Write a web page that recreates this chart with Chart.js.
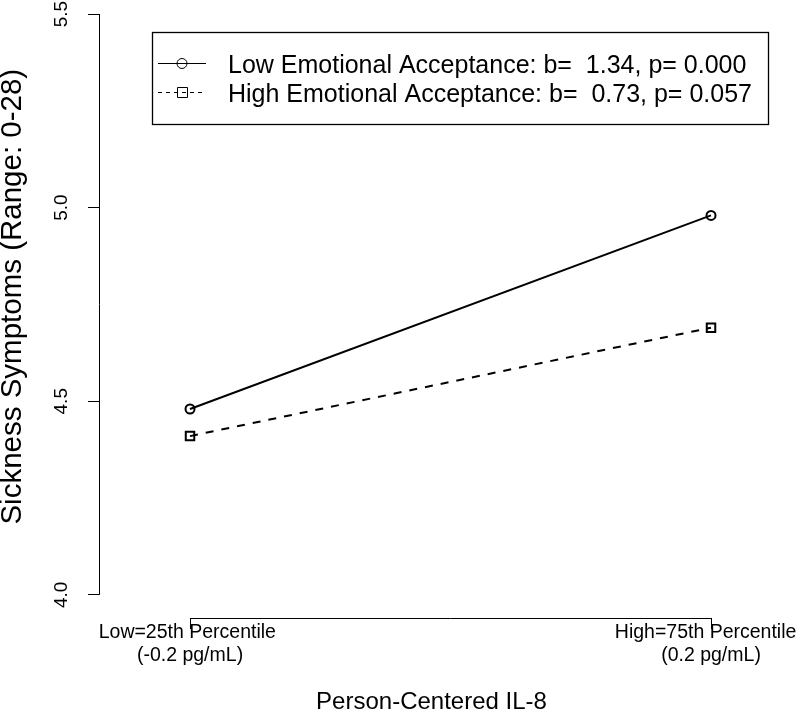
<!DOCTYPE html>
<html>
<head>
<meta charset="utf-8">
<script src="https://cdn.jsdelivr.net/npm/chart.js@4.4.1/dist/chart.umd.min.js"></script>
<style>
  html, body { margin: 0; padding: 0; background: #ffffff; }
  #wrap { width: 800px; height: 712px; position: relative; }
</style>
</head>
<body>
<div id="wrap"><canvas id="c" width="800" height="712"></canvas></div>
<script>
// ---- data ----
const xTickValues = [0, 1];
const xTickLabels = [["Low=25th Percentile ", "(-0.2 pg/mL)"], ["High=75th Percentile  ", "(0.2 pg/mL)"]];
const yTickValues = [4.0, 4.5, 5.0, 5.5];
const lowAcceptance = [4.48, 4.98];
const highAcceptance = [4.41, 4.69];
const seriesNames = [
  "Low Emotional Acceptance: b=  1.34, p= 0.000",
  "High Emotional Acceptance: b=  0.73, p= 0.057"
];
const xTitle = "Person-Centered IL-8";
const yTitle = "   Sickness Symptoms (Range: 0-28)";

const FONT = "'Liberation Sans', Arial, sans-serif";

const toPts = (vals) => vals.map((v, i) => ({ x: xTickValues[i], y: v }));

// draws R-style axis lines from first to last tick, and the boxed legend
const rStyle = {
  id: 'rStyle',
  afterDraw(chart) {
    const ctx = chart.ctx;
    const xs = chart.scales.x, ys = chart.scales.y;
    const area = chart.chartArea;
    ctx.save();
    ctx.strokeStyle = '#000';
    ctx.lineWidth = 1;
    // x axis line
    const yLine = Math.round(area.bottom) + 0.5;
    ctx.beginPath();
    ctx.moveTo(xs.getPixelForValue(xTickValues[0]), yLine);
    ctx.lineTo(xs.getPixelForValue(xTickValues[xTickValues.length - 1]), yLine);
    ctx.stroke();
    // y axis line
    const xLine = Math.round(area.left) + 0.5;
    ctx.beginPath();
    ctx.moveTo(xLine, ys.getPixelForValue(yTickValues[0]));
    ctx.lineTo(xLine, ys.getPixelForValue(yTickValues[yTickValues.length - 1]));
    ctx.stroke();

    // legend box
    const bx = 152.5, by = 32.5, bw = 616, bh = 92;
    ctx.lineWidth = 1.3;
    ctx.strokeRect(bx, by, bw, bh);
    const rows = [63, 92];
    chart.data.datasets.forEach((ds, i) => {
      const y = rows[i] + 0.5;
      ctx.lineWidth = 1;
      ctx.setLineDash(ds.legendDash);
      ctx.beginPath();
      ctx.moveTo(158, y);
      ctx.lineTo(206, y);
      ctx.stroke();
      ctx.setLineDash([]);
      ctx.beginPath();
      if (ds.pointStyle === 'circle') {
        ctx.arc(182, y, 5, 0, Math.PI * 2);
      } else {
        ctx.rect(177.5, y - 5, 10, 10);
      }
      ctx.stroke();
      ctx.fillStyle = '#000';
      ctx.font = '25px ' + FONT;
      ctx.textBaseline = 'alphabetic';
      ctx.textAlign = 'left';
      ctx.fillText(ds.label, 228, rows[i] + 10);
    });
    ctx.restore();
  }
};

new Chart(document.getElementById('c'), {
  type: 'line',
  data: {
    datasets: [
      {
        label: seriesNames[0],
        data: toPts(lowAcceptance),
        borderColor: '#000',
        backgroundColor: 'rgba(0,0,0,0)',
        borderWidth: 2,
        pointStyle: 'circle',
        pointRadius: 4.5,
        pointBorderWidth: 2,
        pointBorderColor: '#000',
        pointBackgroundColor: 'rgba(0,0,0,0)',
        legendDash: [],
        tension: 0
      },
      {
        label: seriesNames[1],
        data: toPts(highAcceptance),
        borderColor: '#000',
        backgroundColor: 'rgba(0,0,0,0)',
        borderWidth: 2,
        borderDash: [8, 8],
        pointStyle: 'rect',
        pointRadius: 6,
        pointBorderWidth: 2,
        pointBorderColor: '#000',
        pointBackgroundColor: 'rgba(0,0,0,0)',
        legendDash: [4, 4],
        tension: 0
      }
    ]
  },
  options: {
    responsive: false,
    animation: false,
    devicePixelRatio: 1,
    layout: { autoPadding: false, padding: { top: 0, right: 36, bottom: 0, left: 0 } },
    plugins: { legend: { display: false }, tooltip: { enabled: false }, title: { display: false } },
    scales: {
      x: {
        type: 'linear',
        min: -0.1747,
        max: 1.1017,
        afterBuildTicks: (s) => { s.ticks = xTickValues.map(v => ({ value: v })); },
        afterFit: (s) => { s.height = 94; s.paddingLeft = 0; s.paddingRight = 0; },
        grid: { drawOnChartArea: false, drawTicks: true, tickLength: 11, color: '#000', lineWidth: 1 },
        border: { display: false },
        ticks: {
          autoSkip: false,
          maxRotation: 0,
          minRotation: 0,
          padding: -8,
          color: '#000',
          font: { family: FONT, size: 19.5, lineHeight: 1.2 },
          callback: (value, index) => xTickLabels[index]
        },
        title: {
          display: true,
          text: xTitle,
          color: '#000',
          font: { family: FONT, size: 24, lineHeight: 1 },
          padding: { top: 0, bottom: -2 }
        }
      },
      y: {
        type: 'linear',
        min: 3.9403,
        max: 5.5362,
        afterBuildTicks: (s) => { s.ticks = yTickValues.map(v => ({ value: v })); },
        afterFit: (s) => { s.width = 99; s.paddingTop = 0; s.paddingBottom = 0; },
        grid: { drawOnChartArea: false, drawTicks: true, tickLength: 11, color: '#000', lineWidth: 1 },
        border: { display: false },
        ticks: {
          autoSkip: false,
          minRotation: 90,
          maxRotation: 90,
          crossAlign: 'center',
          padding: 13,
          color: '#000',
          font: { family: FONT, size: 19, lineHeight: 1.2 },
          callback: (value) => value.toFixed(1)
        },
        title: {
          display: true,
          text: yTitle,
          color: '#000',
          font: { family: FONT, size: 29.5, lineHeight: 1 },
          padding: { top: -2, bottom: 0 }
        }
      }
    }
  },
  plugins: [rStyle]
});
</script>
</body>
</html>
